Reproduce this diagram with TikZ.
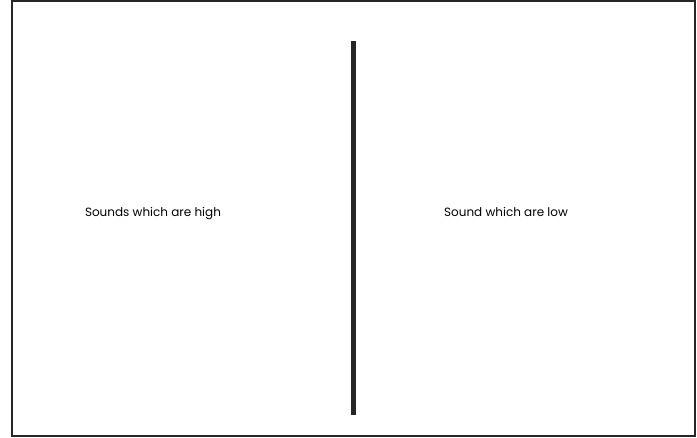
\documentclass[tikz,border=0pt]{standalone}
\usepackage{fontspec}
\setmainfont{Poppins}
\usepackage{tikz}
\usetikzlibrary{positioning}

\begin{document}
\begin{tikzpicture}[
  x=1pt, y=-1pt,
  frame/.style={draw=black!85, line width=2pt},
  divider/.style={draw=black!85, line width=5pt},
  label/.style={font=\fontsize{12}{14}\selectfont, text=black, inner sep=0pt, anchor=base},
]
\useasboundingbox (0,0) rectangle (697,438);

%% ---- Outer frame ----
\draw[frame] (12,1.5) rectangle (695,436);

%% ---- Divider ----
\coordinate (top) at (353.5,41);
\coordinate (bot) at (353.5,415);
\draw[divider] (top) -- (bot);

%% ---- Column labels ----
\node[label] (high) at (153,217) {Sounds which are high};
\node[label] (low)  at (506,217) {Sound which are low};

\end{tikzpicture}
\end{document}
